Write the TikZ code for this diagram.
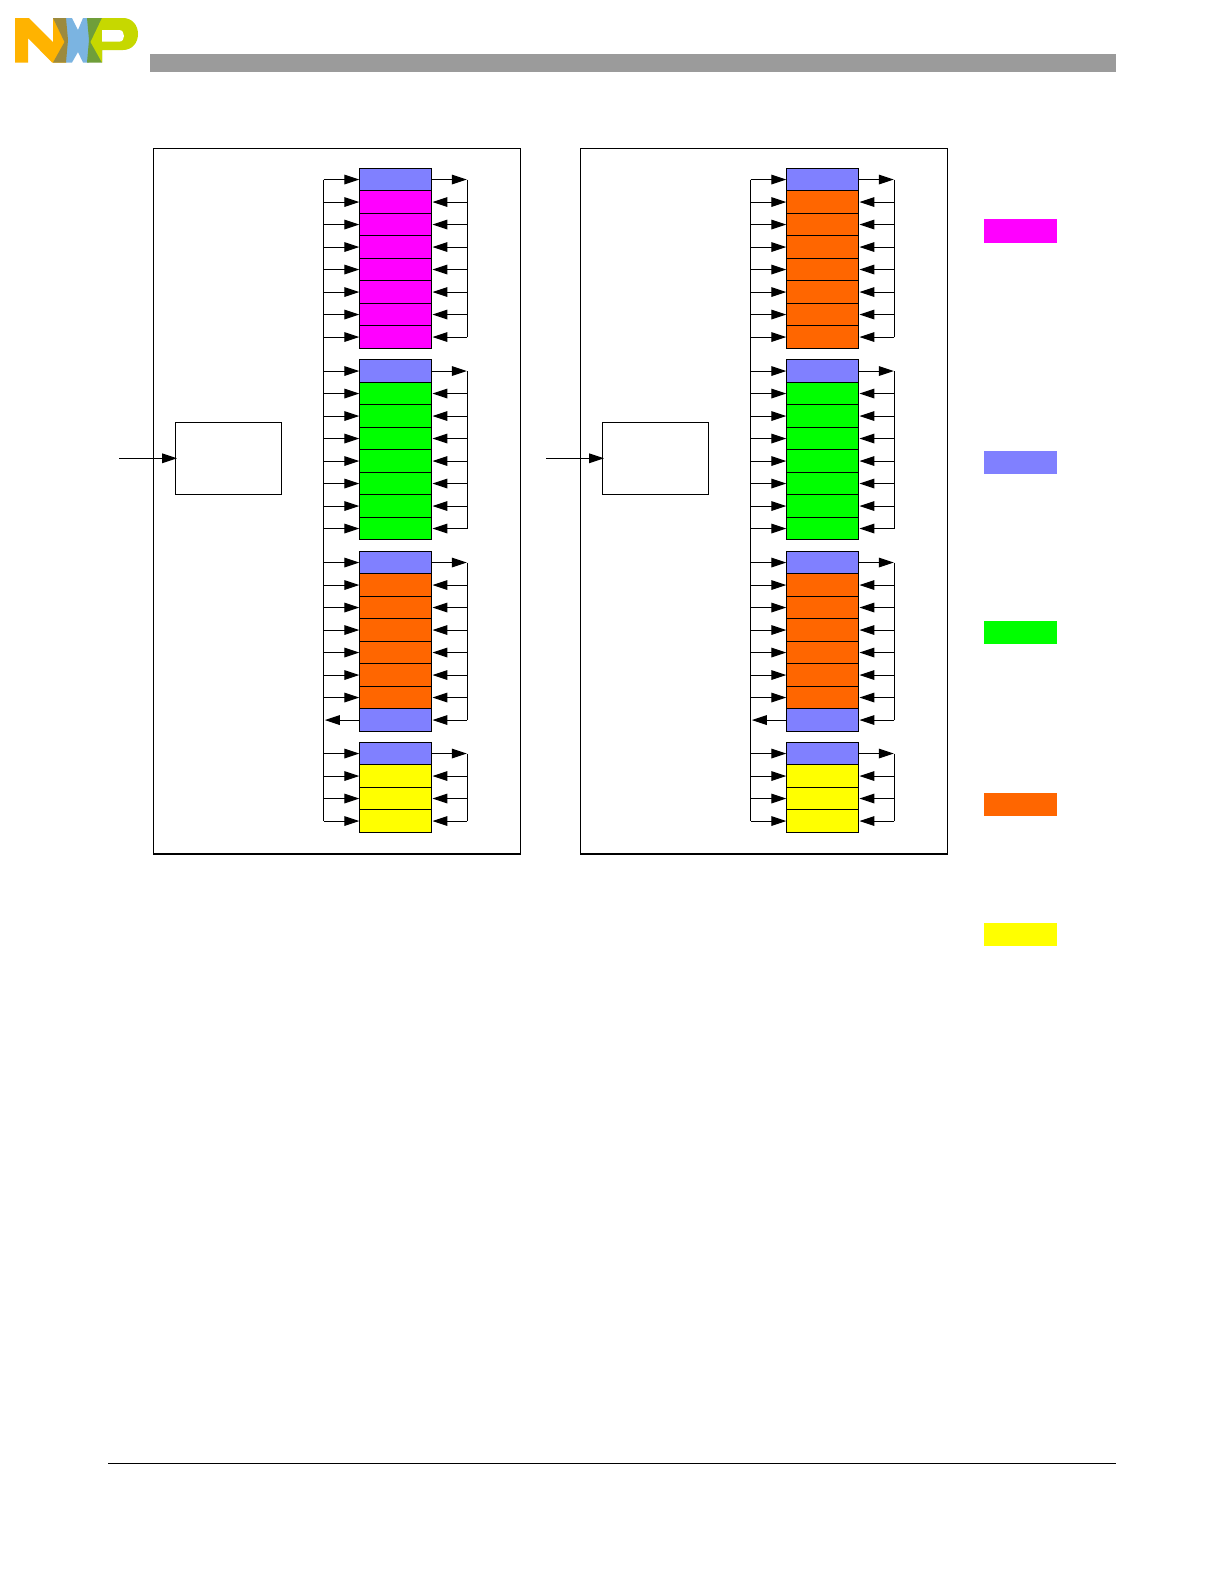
\documentclass[tikz,border=0pt]{standalone}
\usetikzlibrary{arrows.meta}
\definecolor{hdr}{HTML}{8080FF}
\definecolor{magreg}{HTML}{FF00FF}
\definecolor{grnreg}{HTML}{00FF00}
\definecolor{orgreg}{HTML}{FF6600}
\definecolor{yelreg}{HTML}{FFFF00}
\definecolor{barc}{HTML}{9B9B9B}
\definecolor{nxpN}{HTML}{FFB300}
\definecolor{nxpOl}{HTML}{9C8A3E}
\definecolor{nxpX}{HTML}{7BB4E1}
\definecolor{nxpG}{HTML}{6F9E3A}
\definecolor{nxpP}{HTML}{C6D800}
\tikzset{
  wire/.style={line width=0.65pt,black},
  arr/.style={wire,-{Triangle[length=9pt,width=5.8pt]}},
  reg/.style={draw=black,line width=0.65pt,rectangle,inner sep=0pt,outer sep=0pt,minimum width=43.2pt,minimum height=13.5pt},
  frame/.style={draw=black,line width=0.65pt,rectangle,inner sep=0pt,outer sep=0pt},
  legend/.style={rectangle,inner sep=0pt,outer sep=0pt,minimum width=43.8pt,minimum height=13.9pt}
}
% name, top y, number of rows, fill, last row is a header (1/0), panel prefix
\newcommand\regstack[6]{%
  \pgfmathtruncatemacro\lastrw{#3-1}%
  \foreach \rw in {0,...,\lastrw}{%
    \pgfmathsetmacro\yy{#2+11.25+22.5*\rw}%
    \def\rowcol{#4}%
    \ifnum\rw=0 \def\rowcol{hdr}\fi
    \ifnum\rw=\lastrw\relax\ifnum#5=1 \def\rowcol{hdr}\fi\fi
    \node[reg,fill=\rowcol] (#1r\rw) at (395.3,\yy) {};
  }%
  % right-hand return bus
  \draw[wire] (#6R |- #1r0) -- (#6R |- #1r\lastrw);
  \draw[arr] (#1r0.east) -- ([xshift=-0.3pt]#6R |- #1r0);
  \foreach \rw in {1,...,\lastrw}{%
    \draw[arr] (#6R |- #1r\rw) -- ([xshift=0.7pt]#1r\rw.east);
  }%
  % left-hand bus taps
  \pgfmathtruncatemacro\lastleft{\ifnum#5=1 #3-2\else #3-1\fi}%
  \foreach \rw in {0,...,\lastleft}{%
    \draw[arr] (#6L |- #1r\rw) -- (#1r\rw.west);
  }%
  \ifnum#5=1
    \draw[arr] (#1r\lastrw.west) -- ([xshift=0.7pt]#6L |- #1r\lastrw);
  \fi
}
% prefix, x offset in pt, colour of first stack
\newcommand\memorypanel[3]{%
  \begin{scope}[xshift=#2]
    \node[frame,minimum width=220.1pt,minimum height=423.4pt] (#1frame) at (337,501.15) {};
    \node[frame,minimum width=63.4pt,minimum height=43.2pt] (#1box) at (228.5,458.3) {};
    \coordinate (#1in) at (119,458.3);
    \coordinate (#1L) at (323.7,300);
    \coordinate (#1R) at (467.3,300);
    \regstack{#1a}{168.3}{8}{#3}{0}{#1}
    \regstack{#1b}{359.8}{8}{grnreg}{0}{#1}
    \regstack{#1c}{551.3}{8}{orgreg}{1}{#1}
    \regstack{#1d}{742.3}{4}{yelreg}{0}{#1}
    \draw[wire] (#1L |- #1ar0) -- (#1L |- #1dr3);
    \draw[arr] (#1in) -- ([xshift=0.8pt]#1box.west);
  \end{scope}
}
\begin{document}
\begin{tikzpicture}[x=0.6pt,y=-0.6pt]
\useasboundingbox (0,0) rectangle (1224,1584);
\fill[white] (0,0) rectangle (1224,1584);
% logo
\fill[nxpN] (15,18) -- (29,18) -- (53,42) -- (53,18) -- (66,18) -- (66,62.5) -- (52,62.5) -- (28,38) -- (28,62.5) -- (15,62.5) -- cycle;
\fill[nxpX] (66,18) -- (72,18) -- (78,30) -- (83,18) -- (89,18) -- (89,62.5) -- (83,62.5) -- (78,52) -- (72,62.5) -- (66,62.5) -- cycle;
\fill[nxpOl] (53,18) -- (66,18) -- (68,40) -- (66,62.5) -- (53,62.5) -- (64.5,42) -- cycle;
\fill[nxpG] (87,18) -- (102,18) -- (102,62.5) -- (87,62.5) -- (89,40) -- cycle;
\fill[nxpP] (102,18) -- (123,18) .. controls (132,18) and (138,25) .. (138,34) .. controls (138,43) and (132,50) .. (123,50) -- (102,50) -- (102,62.5) -- (90.5,42) -- cycle;
\fill[white] (102,30) -- (119,30) .. controls (122.5,30) and (124,33) .. (124,36) .. controls (124,39) and (122.5,41.7) .. (119,41.7) -- (102,41.7) -- cycle;
% header bar and footer rule
\node[fill=barc,inner sep=0pt,outer sep=0pt,minimum width=579.6pt,minimum height=10.8pt] (headbar) at (633,63) {};
\coordinate (footl) at (108,1463.3);
\coordinate (footr) at (1116,1463.3);
\draw[line width=0.7pt] (footl) -- (footr);
% panels
\memorypanel{p}{0pt}{magreg}
\memorypanel{q}{256.2pt}{orgreg}
% legend
\node[legend,fill=magreg] (leg1) at (1020.5,231) {};
\node[legend,fill=hdr] (leg2) at (1020.5,462.4) {};
\node[legend,fill=grnreg] (leg3) at (1020.5,632.4) {};
\node[legend,fill=orgreg] (leg4) at (1020.5,804.9) {};
\node[legend,fill=yelreg] (leg5) at (1020.5,934.2) {};
\end{tikzpicture}
\end{document}
